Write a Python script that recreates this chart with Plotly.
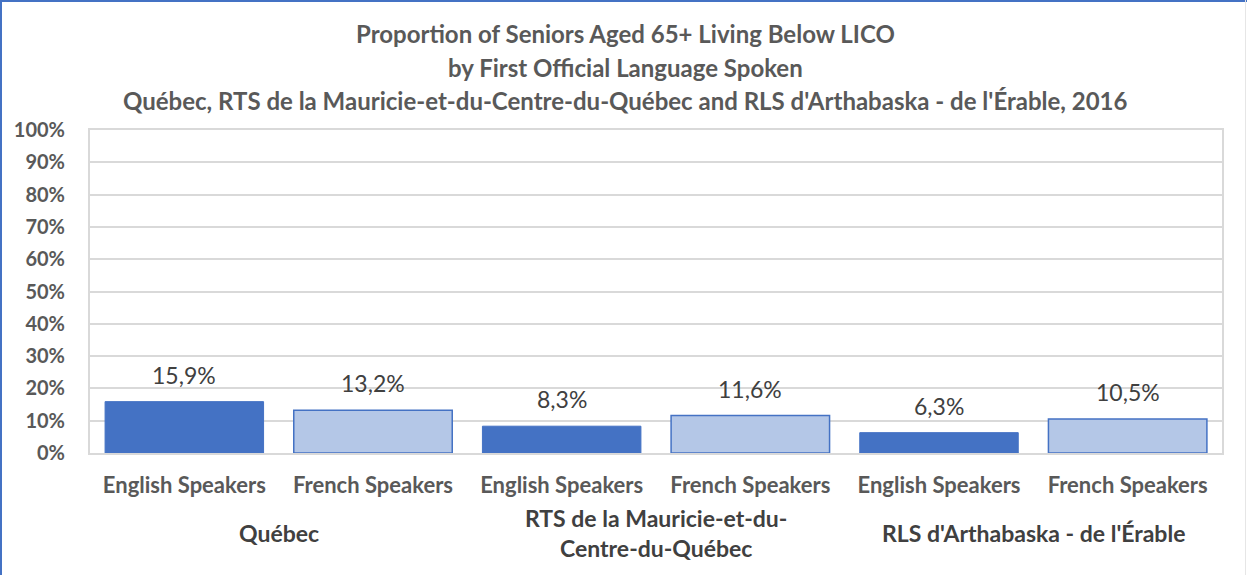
import plotly.graph_objects as go

# ---- data ----
regions = ["Québec", "RTS de la Mauricie-et-du-<br>Centre-du-Québec", "RLS d'Arthabaska - de l'Érable"]
speakers = ["English Speakers", "French Speakers"]
english_values = [15.9, 8.3, 6.3]
french_values = [13.2, 11.6, 10.5]
y_ticks = [0, 10, 20, 30, 40, 50, 60, 70, 80, 90, 100]
title_lines = [
    "Proportion of Seniors Aged 65+ Living Below LICO",
    "by First Official Language Spoken",
    "Québec, RTS de la Mauricie-et-du-Centre-du-Québec and RLS d'Arthabaska - de l'Érable, 2016",
]

W, H = 1247, 575
ML, MR, MT, MB = 90, 25, 130, 122
PW, PH = W - ML - MR, H - MT - MB

FONT = "Lato, 'Open Sans', sans-serif"
BLUE = "#4472C4"
LIGHT = "#B4C7E7"

def fmt(v):
    return f"{v:.1f}".replace(".", ",") + "%"

def py(pix):  # pixel y -> paper y
    return 1 - (pix - MT) / PH

def px(pix):
    return (pix - ML) / PW

x_eng = [2 * i for i in range(len(regions))]
x_fr = [2 * i + 1 for i in range(len(regions))]

fig = go.Figure()
fig.add_trace(go.Bar(x=x_eng, y=english_values, width=0.84,
                     marker=dict(color=BLUE, line=dict(color=BLUE, width=1)),
                     name="English Speakers", showlegend=False, hoverinfo="skip"))
fig.add_trace(go.Bar(x=x_fr, y=french_values, width=0.84,
                     marker=dict(color=LIGHT, line=dict(color=BLUE, width=1.5)),
                     name="French Speakers", showlegend=False, hoverinfo="skip"))

annotations = []
for xs, vals in ((x_eng, english_values), (x_fr, french_values)):
    for x, v in zip(xs, vals):
        annotations.append(dict(x=x, y=v, xref="x", yref="y", text=fmt(v),
                                showarrow=False, yanchor="middle", yshift=27,
                                font=dict(family=FONT, size=23, color="#404040")))

for i, r in enumerate(regions):
    annotations.append(dict(x=2 * i + 0.5, y=py(533), xref="x", yref="paper", text="<b>" + r + "</b>",
                            showarrow=False, yanchor="middle",
                            font=dict(family=FONT, size=23, color="#404040"),
                            align="center"))

for yy, t in zip([33, 67, 100], title_lines):
    annotations.append(dict(x=px(625), y=py(yy), xref="paper", yref="paper", text=f"<b>{t}</b>",
                            showarrow=False, yanchor="middle", xanchor="center",
                            font=dict(family=FONT, size=24, color="#595959")))

shapes = [
    dict(type="line", xref="paper", yref="paper", x0=px(1), x1=px(1), y0=py(0), y1=py(H),
         line=dict(color=BLUE, width=2)),
    dict(type="line", xref="paper", yref="paper", x0=px(0), x1=px(W), y0=py(1), y1=py(1),
         line=dict(color=BLUE, width=2)),
    dict(type="line", xref="paper", yref="paper", x0=px(1245.5), x1=px(1245.5), y0=py(0), y1=py(H),
         line=dict(color="#E6E6E6", width=1)),
]

fig.update_layout(
    width=W, height=H,
    margin=dict(l=ML, r=MR, t=MT, b=MB, pad=0),
    paper_bgcolor="white", plot_bgcolor="white",
    annotations=annotations, shapes=shapes,
    bargap=0.16,
    xaxis=dict(range=[-0.5, 5.5], tickvals=x_eng + x_fr,
               ticktext=["<b>%s</b>" % speakers[0]] * 3 + ["<b>%s</b>" % speakers[1]] * 3,
               tickfont=dict(family=FONT, size=22, color="#595959"),
               showline=True, linecolor="#D9D9D9", linewidth=2, mirror=True,
               showgrid=False, ticks="", ticklabelstandoff=12, fixedrange=True),
    yaxis=dict(range=[0, 100], tickvals=y_ticks,
               ticktext=["<b>%d%%</b>" % t for t in y_ticks],
               tickfont=dict(family=FONT, size=20, color="#595959"),
               showgrid=True, gridcolor="#D9D9D9", gridwidth=1.5,
               showline=True, linecolor="#D9D9D9", linewidth=2, mirror=True,
               zeroline=False, ticks="", ticklabelstandoff=19, fixedrange=True),
)

fig.write_html("out.html", config={"displayModeBar": False},
               post_script="document.body.style.margin='0';document.body.style.overflow='hidden';")
